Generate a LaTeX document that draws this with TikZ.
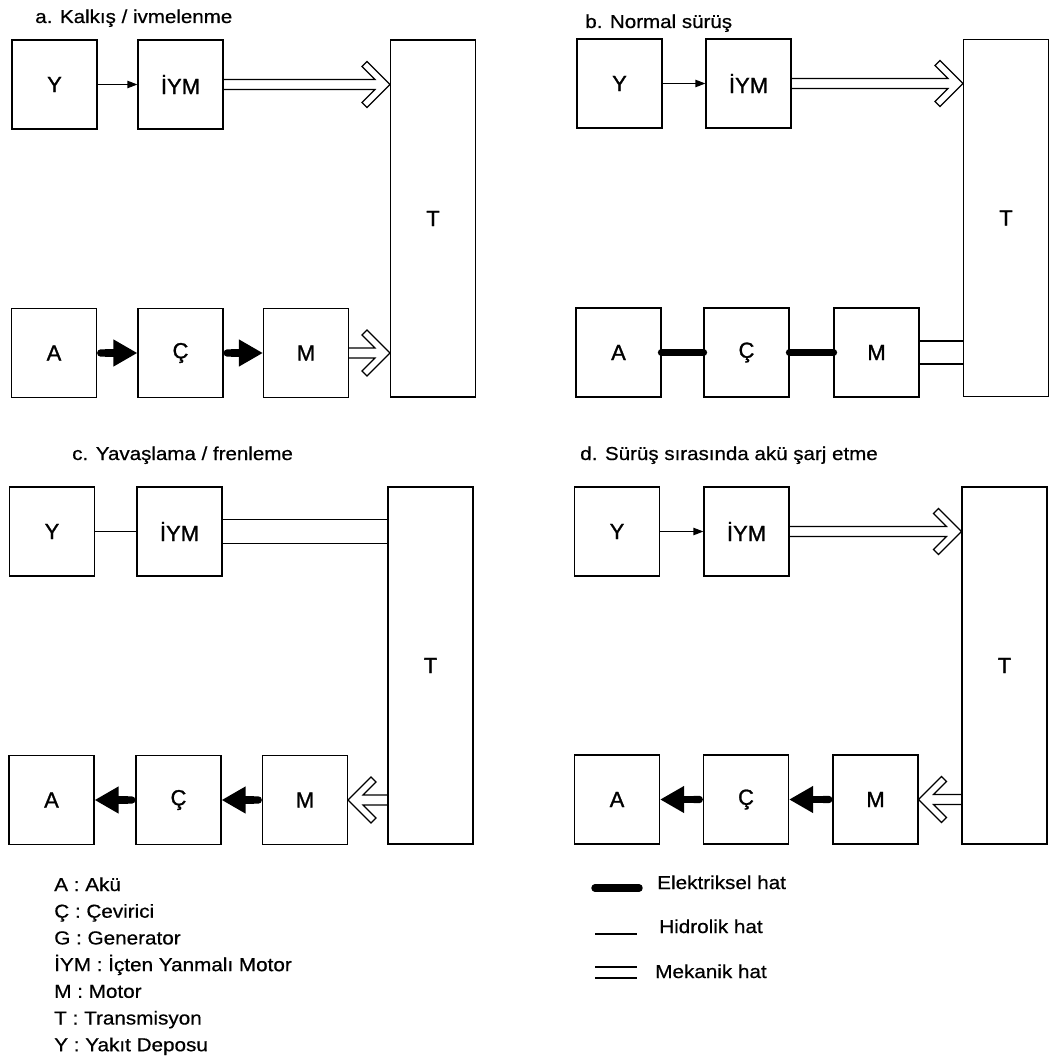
\documentclass[tikz,border=0pt]{standalone}
\usepackage{fontspec}
\setmainfont{Liberation Sans}
\newfontfamily\boxfont{Liberation Sans}[FakeBold=1.2]
\newfontfamily\stretchfont{Liberation Sans}[FakeStretch=1.1,FakeBold=0.6]
\usetikzlibrary{arrows.meta,calc}
\newcommand\mechR[2]{%
  \draw[mech] ($(#1)+(0,-5)$) -- ($(#2)+(-15,-5)$) -- ++(-13,-13) -- ++(5,-5) -- (#2)
    -- ++(-23,23) -- ++(-5,-5) -- ++(13,-13) -- ($(#1)+(0,5)$);}
\newcommand\mechL[2]{%
  \draw[mech] ($(#1)+(0,-5)$) -- ($(#2)+(15,-5)$) -- ++(13,-13) -- ++(-5,-5) -- (#2)
    -- ++(23,23) -- ++(5,-5) -- ++(-13,-13) -- ($(#1)+(0,5)$);}
\begin{document}
\begin{tikzpicture}[x=0.75pt,y=-0.75pt,
  box/.style={draw, line width=1.1pt, minimum width=63.5pt, minimum height=66.75pt,
    inner sep=0pt, font=\boxfont\fontsize{16.5pt}{18pt}\selectfont},
  tbox/.style={box, minimum width=63.5pt, minimum height=268pt},
  hyd/.style={line width=0.9pt},
  hydarr/.style={hyd, -{Triangle[length=7.5pt,width=5.5pt]}},
  elec/.style={line width=5.6pt, line cap=round},
  elecarr/.style={line width=5.6pt, {Round Cap[]}-{Triangle[length=18pt,width=19pt]}},
  mech/.style={line width=0.9pt, line join=miter},
  ttl/.style={anchor=base west, inner sep=0pt, font=\stretchfont\fontsize{14pt}{16pt}\selectfont},
  leg/.style={anchor=base west, inner sep=0pt, font=\stretchfont\fontsize{14.1pt}{15pt}\selectfont}]
\useasboundingbox[fill=white] (0,0) rectangle (1062,1059);

% ---------- a ----------
\node[ttl] (ta) at (35,23) {a. Kalkış / ivmelenme};
\node[box] (Ya) at (54.5,84.5) {Y};
\node[box] (IYMa) at (180.5,84.5) {İYM};
\node[tbox] (Ta) at (433,218.5) {T};
\node[box] (Aa) at (54,353) {A};
\node[box] (Ca) at (180.5,353) {Ç};
\node[box] (Ma) at (306,353) {M};
\draw[hydarr] (Ya) -- (IYMa);
\mechR{IYMa.east}{IYMa.east -| Ta.west}
\draw[elecarr] (Aa.east) -- (Ca.west);
\draw[elecarr] (Ca.east) -- (Ma.west);
\mechR{Ma.east}{Ma.east -| Ta.west}

% ---------- b ----------
\node[ttl] (tb) at (585,28) {b. Normal sürüş};
\node[box] (Yb) at (619.5,83.5) {Y};
\node[box] (IYMb) at (748.5,83.5) {İYM};
\node[tbox] (Tb) at (1006,218) {T};
\node[box] (Ab) at (618.5,352.5) {A};
\node[box] (Cb) at (746.5,352.5) {Ç};
\node[box] (Mb) at (876.5,352.5) {M};
\draw[hydarr] (Yb) -- (IYMb);
\mechR{IYMb.east}{IYMb.east -| Tb.west}
\draw[elec] (Ab.east) -- (Cb.west);
\draw[elec] (Cb.east) -- (Mb.west);
\draw[mech] ($(Mb.east)+(0,-11.5)$) -- ($(Mb.east -| Tb.west)+(0,-11.5)$);
\draw[mech] ($(Mb.east)+(0,11.5)$) -- ($(Mb.east -| Tb.west)+(0,11.5)$);

% ---------- c ----------
\node[ttl] (tc) at (72,460) {c. Yavaşlama / frenleme};
\node[box] (Yc) at (52,531.5) {Y};
\node[box] (IYMc) at (179.5,531.5) {İYM};
\node[tbox] (Tc) at (430.5,665.5) {T};
\node[box] (Ac) at (51.5,800) {A};
\node[box] (Cc) at (178.5,800) {Ç};
\node[box] (Mc) at (305,800) {M};
\draw[hyd] (Yc) -- (IYMc);
\draw[mech] ($(IYMc.east)+(0,-12)$) -- ($(IYMc.east -| Tc.west)+(0,-12)$);
\draw[mech] ($(IYMc.east)+(0,12)$) -- ($(IYMc.east -| Tc.west)+(0,12)$);
\draw[elecarr] (Cc.west) -- (Ac.east);
\draw[elecarr] (Mc.west) -- (Cc.east);
\mechL{Mc.east -| Tc.west}{Mc.east}

% ---------- d ----------
\node[ttl] (td) at (580,460) {d. Sürüş sırasında akü şarj etme};
\node[box] (Yd) at (617,531.5) {Y};
\node[box] (IYMd) at (746.5,531.5) {İYM};
\node[tbox] (Td) at (1004.5,665.5) {T};
\node[box] (Ad) at (617,799.5) {A};
\node[box] (Cd) at (746,799.5) {Ç};
\node[box] (Md) at (875.5,799.5) {M};
\draw[hydarr] (Yd) -- (IYMd);
\mechR{IYMd.east}{IYMd.east -| Td.west}
\draw[elecarr] (Cd.west) -- (Ad.east);
\draw[elecarr] (Md.west) -- (Cd.east);
\mechL{Md.east -| Td.west}{Md.east}

% ---------- legends ----------
\node[leg] (l1) at (54,891) {A : Akü};
\node[leg] (l2) at (54,917.7) {Ç : Çevirici};
\node[leg] (l3) at (54,944.4) {G : Generator};
\node[leg] (l4) at (54,971.1) {İYM : İçten Yanmalı Motor};
\node[leg] (l5) at (54,997.8) {M : Motor};
\node[leg] (l6) at (54,1024.5) {T : Transmisyon};
\node[leg] (l7) at (54,1051.2) {Y : Yakıt Deposu};

\coordinate (e1) at (595,888); \coordinate (e2) at (639,888);
\draw[elec] (e1) -- (e2);
\node[leg] (le) at (657,889) {Elektriksel hat};
\coordinate (h1) at (595,934); \coordinate (h2) at (637,934);
\draw[hyd] (h1) -- (h2);
\node[leg] (lh) at (659,933) {Hidrolik hat};
\coordinate (m1) at (595,967); \coordinate (m2) at (637,967);
\coordinate (m3) at (595,978); \coordinate (m4) at (637,978);
\draw[mech] (m1) -- (m2);
\draw[mech] (m3) -- (m4);
\node[leg] (lm) at (655,978) {Mekanik hat};
\end{tikzpicture}
\end{document}
